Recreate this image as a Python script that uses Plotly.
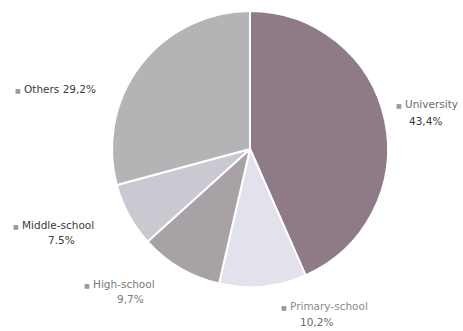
import plotly.graph_objects as go

categories = ["University", "Primary-school", "High-school", "Middle-school", "Others"]
values = [43.4, 10.2, 9.7, 7.5, 29.2]
value_labels = ["43,4%", "10,2%", "9,7%", "7.5%", "29,2%"]
colors = ["#8e7b87", "#e3e1eb", "#a8a1a6", "#c9cad1", "#b4b4b6"]

W, H = 463, 331
fig = go.Figure(go.Pie(
    labels=categories, values=values, sort=False, direction="clockwise",
    rotation=0, textinfo="none", hoverinfo="label+percent",
    marker=dict(colors=colors, line=dict(color="white", width=2)),
    domain=dict(x=[112 / W, 388 / W], y=[1 - 288 / H, 1 - 10 / H]),
    showlegend=False,
))

# label layout in pixels: (bullet-left x, first line y, percent centre x, percent y)
label_specs = {
    "University": dict(x=394, y=104, px=425, py=121, color="#6a6a6a", pcolor="#3a3a3a"),
    "Primary-school": dict(x=279, y=306, px=316, py=322, color="#8a8a8a", pcolor="#6a6a6a"),
    "High-school": dict(x=82, y=284, px=130, py=299, color="#7a7a7a", pcolor="#7a7a7a"),
    "Middle-school": dict(x=11, y=225, px=61, py=240, color="#3a3a3a", pcolor="#3a3a3a"),
    "Others": dict(x=13, y=89, px=None, py=None, color="#3a3a3a", pcolor="#3a3a3a"),
}
FONT = "DejaVu Sans, Arial"
for cat, lab in zip(categories, value_labels):
    s = label_specs[cat]
    bullet = "<span style='font-size:6px;color:#999999'>■</span> "
    first = f"{bullet}{cat}" if s["px"] is not None else f"{bullet}{cat} {lab}"
    fig.add_annotation(
        x=s["x"] / W, y=1 - s["y"] / H, xref="paper", yref="paper",
        text=first, showarrow=False, xanchor="left", yanchor="middle",
        font=dict(family=FONT, size=10.5, color=s["color"]),
    )
    if s["px"] is not None:
        fig.add_annotation(
            x=s["px"] / W, y=1 - s["py"] / H, xref="paper", yref="paper",
            text=lab, showarrow=False, xanchor="center", yanchor="middle",
            font=dict(family=FONT, size=10.5, color=s["pcolor"]),
        )

fig.update_layout(
    width=W, height=H, margin=dict(l=0, r=0, t=0, b=0),
    paper_bgcolor="white", plot_bgcolor="white",
)
fig.write_html("out.html", config={"displayModeBar": False},
               post_script="document.body.style.margin='0';")
